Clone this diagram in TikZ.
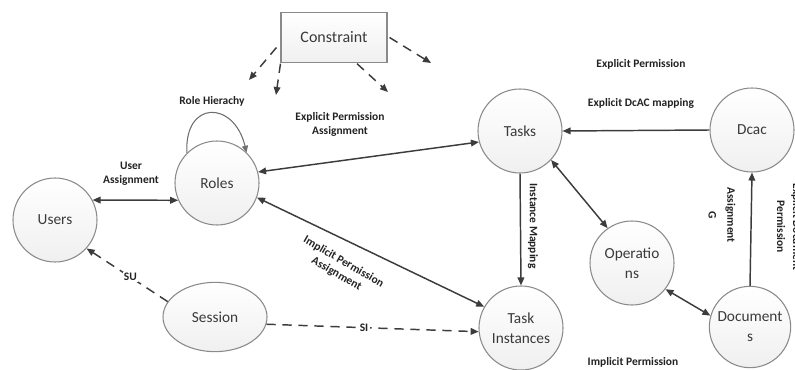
\documentclass[tikz,border=0pt]{standalone}
\usepackage{fontspec}
\setmainfont{Carlito}
\usetikzlibrary{arrows.meta,shapes.geometric,calc}
\definecolor{edge}{HTML}{3C3C3C}
\definecolor{rim}{HTML}{8A8A8A}
\definecolor{ink}{HTML}{3A3A3A}
\definecolor{labelink}{HTML}{222222}
\begin{document}
\begin{tikzpicture}[x=0.75pt,y=-0.75pt,
  entity/.style={circle,draw=rim,line width=0.8pt,top color=white,bottom color=black!6,
    minimum size=63pt,inner sep=0pt,align=center,text=ink,
    font=\fontsize{11.5}{15}\selectfont},
  sessionbox/.style={ellipse,draw=rim,line width=0.8pt,top color=white,bottom color=black!6,
    minimum width=78pt,minimum height=52pt,inner sep=0pt,text=ink,
    font=\fontsize{11.5}{15}\selectfont},
  constraintbox/.style={rectangle,draw=rim,line width=0.8pt,top color=white,bottom color=black!6,
    minimum width=79.5pt,minimum height=37pt,text=ink,font=\fontsize{12}{15}\selectfont},
  lbl/.style={font=\fontsize{8.6}{10.5}\selectfont\bfseries,text=labelink,align=center,inner sep=1pt},
  tip/.style={-{Triangle[length=6pt,width=5pt]}},
  bitip/.style={{Triangle[length=6pt,width=5pt]}-{Triangle[length=6pt,width=5pt]}},
  link/.style={draw=edge,line width=1.1pt},
  dashlink/.style={draw=edge,line width=1.1pt,dash pattern=on 7pt off 5pt}
]
\useasboundingbox (0,0) rectangle (795,370);
\clip (0,0) rectangle (795,370);

% entities
\node[entity] (users) at (55,220) {Users};
\node[entity] (roles) at (217,183) {Roles};
\node[sessionbox] (session) at (215,317) {Session};
\node[entity] (tasks) at (520,131) {Tasks};
\node[entity] (dcac) at (752,130) {Dcac};
\node[entity] (ops) at (632,263) {Operatio\\ns};
\node[entity] (inst) at (521,328) {Task\\Instances};
\node[entity,minimum size=61pt] (docs) at (750,327) {Document\\s};
\node[constraintbox] (constraint) at (334,37.5) {Constraint};

% free ends of the constraint arrows
\coordinate (c1) at (249,80);
\coordinate (c2) at (276,95);
\coordinate (c3) at (388,92);
\coordinate (c4) at (431,63);

% constraint arrows
\draw[dashlink,tip] ($(constraint.west)+(-4,10)$) -- (c1);
\draw[dashlink,tip] ($(constraint.south west)+(0,1)$) -- (c2);
\draw[dashlink,tip] ($(constraint.south)+(23,1)$) -- (c3);
\draw[dashlink,tip] ($(constraint.east)+(2,0)$) -- (c4);

% role hierarchy loop
\draw[draw=rim!80!black,line width=0.8pt,-{Triangle[length=5pt,width=4.5pt]}]
  (roles.135) .. controls (184,100) and (234,100) .. (roles.46);

% solid links
\draw[link,bitip] (users.28) -- (roles.204);
\draw[link,bitip] (roles.15) -- (tasks.195);
\draw[link,bitip] (roles.340) -- (inst.150);
\draw[link,tip] (tasks.south) -- (inst.north);
\draw[link,bitip] (tasks.317) -- (ops.125);
\draw[link,tip] (dcac.west) -- (tasks.east);
\draw[link,tip] (docs.north) -- (dcac.south);
\draw[link,bitip] (docs.164) -- (ops.322);

% session links
\draw[dashlink,tip] (session.162) -- node[lbl,fill=white,pos=0.46]{SU} (users.318);
\draw[dashlink,tip] (session.352) -- node[lbl,fill=white,pos=0.46]{SI} (inst.185);

% labels
\node[lbl] (lrh) at (212,101) {Role Hierachy};
\node[lbl] (lepa) at (340,124) {Explicit Permission\\Assignment};
\node[lbl] (lua) at (131,174) {User\\Assignment};
\node[lbl] (lep) at (641,64) {Explicit Permission};
\node[lbl] (ledm) at (641,103) {Explicit DcAC mapping};
\node[lbl,rotate=-90] (lim) at (533,226) {Instance Mapping};
\node[lbl,rotate=-30] (lipa) at (340,268) {Implicit Permission\\Assignment};
\node[lbl] (lip) at (633,362) {Implicit Permission};
\node[lbl,rotate=-90,font=\fontsize{8.6}{14}\selectfont\bfseries] (lag) at (722,215) {Assignment\\G};
\node[lbl,rotate=-90,font=\fontsize{8.6}{12}\selectfont\bfseries] (ledp) at (789,227) {Explicit Document\\Permission};
\end{tikzpicture}
\end{document}
